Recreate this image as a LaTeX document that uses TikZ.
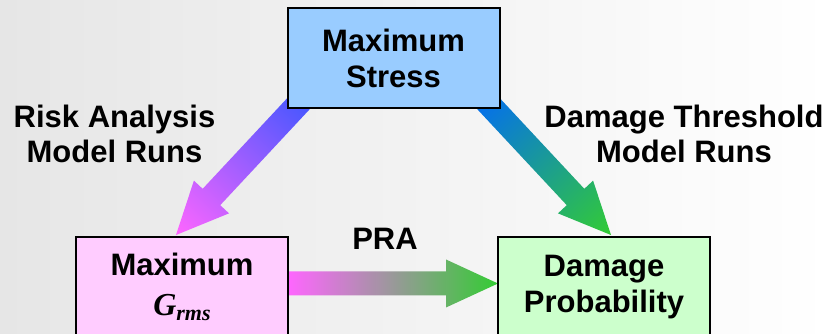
\documentclass[tikz,border=0pt]{standalone}
\usepackage{fontspec}
\setmainfont{Liberation Sans}
\newfontfamily\timesfont{Liberation Serif}
\usetikzlibrary{backgrounds}
\definecolor{paper}{HTML}{E6E6E6}
\definecolor{stressblue}{HTML}{99CCFF}
\definecolor{grmspink}{HTML}{FFCCFF}
\definecolor{damagegreen}{HTML}{CCFFCC}
\definecolor{runblue}{HTML}{0066FF}
\definecolor{riskblue}{HTML}{3355FF}
\definecolor{magentatip}{HTML}{FF66FF}
\definecolor{greentip}{HTML}{33CC33}
% fat shaded arrow: tail at #1, angle #2, length #3, colours #4 -> #5
\newcommand{\fatarrow}[5]{%
	\begin{scope}[transform canvas={shift={(#1)},rotate=#2}]
		\shade[left color=#4,right color=#5] (0,-12) -- (#3-52,-12) -- (#3-52,-24) -- (#3,0)
			-- (#3-52,24) -- (#3-52,12) -- (0,12) -- cycle;
	\end{scope}}

\begin{document}
\begin{tikzpicture}[x=1pt,y=1pt,
		background rectangle/.style={left color=paper,right color=white},
		show background rectangle,inner frame sep=0pt,
		box/.style={draw=black,line width=2pt,minimum width=212pt,minimum height=100pt,
			inner sep=0pt,align=center,font=\bfseries\fontsize{31}{36}\selectfont},
		runs/.style={align=center,font=\bfseries\fontsize{31}{35}\selectfont}]
	\useasboundingbox (0,0) rectangle (831,334);
	\clip (0,0) rectangle (831,334);
	%
	\coordinate (tailL) at (315.8,248.9);
	\coordinate (tailR) at (471.2,248.9);
	\coordinate (tailP) at (288,50.5);
	\fatarrow{tailL}{227}{205}{riskblue}{magentatip}
	\fatarrow{tailR}{-47}{205}{runblue}{greentip}
	\fatarrow{tailP}{0}{210}{magentatip}{greentip}
	%
	\node[box,fill=stressblue] (stress) at (393.5,275.5) {Maximum\\Stress};
	\node[box,fill=grmspink] (grms) at (182,47)
		{Maximum\\[4pt]{\timesfont\itshape\fontsize{32}{36}\selectfont G\raisebox{-5pt}{\fontsize{22}{22}\selectfont rms}}};
	\node[box,fill=damagegreen] (damage) at (604,47) {Damage\\Probability};
	%
	\node[runs] (riskruns) at (114.5,200.5) {Risk Analysis\\Model Runs};
	\node[runs] (threshruns) at (684,200.5) {Damage Threshold\\Model Runs};
	\node[runs] (pra) at (385,95) {PRA};
\end{tikzpicture}
\end{document}
